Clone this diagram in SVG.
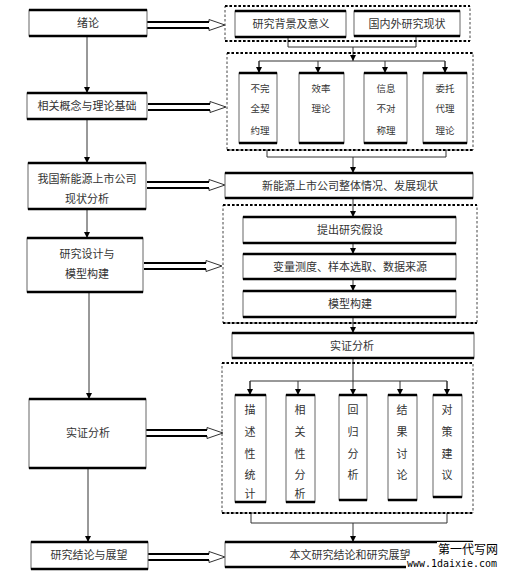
<svg xmlns="http://www.w3.org/2000/svg" width="508" height="577" viewBox="0 0 508 577">
<style>
.bx{fill:#fff;stroke:#666;stroke-width:1}
.tb{stroke:#000;stroke-width:2.5;fill:none}
.dot{fill:none;stroke:#444;stroke-width:1;stroke-dasharray:2.5 2}
.dotb{fill:none;stroke:#000;stroke-width:2;stroke-dasharray:2.5 2}
.ln{fill:none;stroke:#333;stroke-width:1}
.ar{fill:none;stroke:#333;stroke-width:1;marker-end:url(#ah)}
.t{font-family:"Liberation Serif","Noto Sans CJK SC",serif;font-size:11px;fill:#333;text-anchor:middle;dominant-baseline:central}
.s{font-size:9.5px}
.wm{font-family:"DejaVu Sans Mono","Noto Sans CJK SC",monospace;fill:#000;text-anchor:start}
</style>
<defs>
<marker id="ah" markerWidth="6" markerHeight="6" refX="6" refY="3" orient="auto" markerUnits="userSpaceOnUse">
<path d="M0,0 L6,3 L0,6 z" fill="#000"/>
</marker>
<g id="barrow">
<path d="M0,-3 H62 V-5.5 L78,0 L62,5.5 V3 H0" fill="#fff" stroke="#333" stroke-width="1"/>
<line x1="0" y1="-3" x2="62" y2="-3" stroke="#000" stroke-width="2"/>
<line x1="0" y1="3" x2="62" y2="3" stroke="#000" stroke-width="2"/>
</g>
</defs>
<rect width="508" height="577" fill="#fff"/>

<g id="connectors">
<line class="ar" x1="87" y1="36" x2="87" y2="93"/>
<line class="ar" x1="87" y1="119" x2="87" y2="163"/>
<line class="ar" x1="87" y1="209" x2="87" y2="238"/>
<line class="ar" x1="89" y1="292" x2="89" y2="399"/>
<line class="ar" x1="88" y1="468" x2="88" y2="542"/>
<use href="#barrow" x="147" y="25"/>
<use href="#barrow" x="148" y="107"/>
<use href="#barrow" x="147" y="185"/>
<use href="#barrow" x="144" y="266"/>
<use href="#barrow" x="145" y="433"/>
<use href="#barrow" x="147" y="557"/>
<path class="ln" d="M288,37 V47 H416 V36"/>
<line class="ar" x1="353" y1="47" x2="353" y2="61"/>
<path class="ln" d="M259,72 V61 H445 V72"/>
<line class="ar" x1="259" y1="61" x2="259" y2="73"/>
<line class="ar" x1="318" y1="61" x2="318" y2="73"/>
<line class="ar" x1="385" y1="61" x2="385" y2="73"/>
<line class="ar" x1="445" y1="61" x2="445" y2="73"/>
<path class="ln" d="M267,150 V157 H446 V150"/>
<line class="ar" x1="353" y1="157" x2="353" y2="173"/>
<line class="ar" x1="353" y1="198" x2="353" y2="217"/>
<line class="ar" x1="353" y1="243" x2="353" y2="254"/>
<line class="ar" x1="353" y1="279" x2="353" y2="291"/>
<line class="ar" x1="353" y1="317" x2="353" y2="333"/>
<line class="ar" x1="353" y1="358" x2="353" y2="395"/>
<path class="ln" d="M250,394 V381 H447 V394"/>
<line class="ar" x1="250" y1="381" x2="250" y2="395"/>
<line class="ar" x1="298" y1="381" x2="298" y2="395"/>
<line class="ar" x1="400" y1="381" x2="400" y2="395"/>
<line class="ar" x1="447" y1="381" x2="447" y2="395"/>
<path class="ln" d="M251,513 V523 H447 V513"/>
<line class="ar" x1="353" y1="523" x2="353" y2="542"/>
</g>

<g id="groupA">
<rect class="dot" x="225" y="6" width="245" height="35"/>
<line class="dotb" x1="225" y1="6" x2="470" y2="6"/><line class="dotb" x1="225" y1="41" x2="470" y2="41"/>
</g>
<g id="groupB">
<rect class="dot" x="227" y="53" width="246" height="97"/>
<line class="dotb" x1="227" y1="53" x2="473" y2="53"/><line class="dotb" x1="227" y1="150" x2="473" y2="150"/>
</g>
<g id="groupC">
<rect class="dot" x="223" y="205" width="254" height="118"/>
<line class="dotb" x1="223" y1="205" x2="477" y2="205"/><line class="dotb" x1="223" y1="323" x2="477" y2="323"/>
</g>
<g id="groupD">
<rect class="dot" x="222" y="363" width="251" height="150"/>
<line class="dotb" x1="222" y1="363" x2="473" y2="363"/><line class="dotb" x1="222" y1="513" x2="473" y2="513"/>
</g>

<g id="n-xulun"><rect class="bx" x="29" y="10" width="118" height="26"/><path class="tb" d="M29,10 H147 M29,36 H147"/><text class="t" x="88" y="23">绪论</text></g>
<g id="n-xiangguan"><rect class="bx" x="27" y="93" width="120" height="26"/><path class="tb" d="M27,93 H147 M27,119 H147"/><text class="t" x="87" y="106">相关概念与理论基础</text></g>
<g id="n-woguo"><rect class="bx" x="28" y="163" width="118" height="46"/><path class="tb" d="M28,163 H146 M28,209 H146"/><text class="t" x="87" y="179">我国新能源上市公司</text><text class="t" x="87" y="199">现状分析</text></g>
<g id="n-sheji"><rect class="bx" x="27" y="238" width="116" height="54"/><path class="tb" d="M27,238 H143 M27,292 H143"/><text class="t" x="87" y="254">研究设计与</text><text class="t" x="87" y="274">模型构建</text></g>
<g id="n-shizheng"><rect class="bx" x="29" y="399" width="117" height="69"/><path class="tb" d="M29,399 H146 M29,468 H146"/><text class="t" x="88" y="433">实证分析</text></g>
<g id="n-jielun"><rect class="bx" x="31" y="542" width="117" height="27"/><path class="tb" d="M31,542 H148 M31,569 H148"/><text class="t" x="89" y="555">研究结论与展望</text></g>

<g id="n-beijing"><rect class="bx" x="235" y="11" width="111" height="26"/><path class="tb" d="M235,11 H346 M235,37 H346"/><text class="t" x="291" y="24">研究背景及意义</text></g>
<g id="n-guonei"><rect class="bx" x="354" y="11" width="106" height="25"/><path class="tb" d="M354,11 H460 M354,36 H460"/><text class="t" x="407" y="23.5">国内外研究现状</text></g>

<g id="n-buwanquan"><rect class="bx" x="239" y="73" width="38" height="70"/><path class="tb" d="M239,73 H277 M239,143 H277"/><text class="t s" x="260" y="89">不完</text><text class="t s" x="260" y="109">全契</text><text class="t s" x="260" y="131">约理</text></g>
<g id="n-xiaolv"><rect class="bx" x="299" y="73" width="45" height="70"/><path class="tb" d="M299,73 H344 M299,143 H344"/><text class="t s" x="321" y="89">效率</text><text class="t s" x="321" y="109">理论</text></g>
<g id="n-xinxi"><rect class="bx" x="364" y="73" width="43" height="70"/><path class="tb" d="M364,73 H407 M364,143 H407"/><text class="t s" x="386" y="89">信息</text><text class="t s" x="386" y="109">不对</text><text class="t s" x="386" y="131">称理</text></g>
<g id="n-weituo"><rect class="bx" x="423" y="73" width="44" height="70"/><path class="tb" d="M423,73 H467 M423,143 H467"/><text class="t s" x="445" y="89">委托</text><text class="t s" x="445" y="109">代理</text><text class="t s" x="445" y="131">理论</text></g>

<g id="n-zhengti"><rect class="bx" x="225" y="173" width="248" height="25"/><path class="tb" d="M225,173 H473 M225,198 H473"/><text class="t" x="350" y="186">新能源上市公司整体情况、发展现状</text></g>
<g id="n-tichu"><rect class="bx" x="243" y="217" width="213" height="26"/><path class="tb" d="M243,217 H456 M243,243 H456"/><text class="t" x="350" y="230">提出研究假设</text></g>
<g id="n-bianliang"><rect class="bx" x="243" y="254" width="213" height="25"/><path class="tb" d="M243,254 H456 M243,279 H456"/><text class="t" x="350" y="267">变量测度、样本选取、数据来源</text></g>
<g id="n-moxing"><rect class="bx" x="243" y="291" width="213" height="26"/><path class="tb" d="M243,291 H456 M243,317 H456"/><text class="t" x="350" y="304">模型构建</text></g>
<g id="n-shizheng2"><rect class="bx" x="232" y="333" width="242" height="25"/><path class="tb" d="M232,333 H474 M232,358 H474"/><text class="t" x="352" y="346">实证分析</text></g>

<g id="n-miaoshu"><rect class="bx" x="235" y="395" width="31" height="107"/><path class="tb" d="M235,395 H266 M235,502 H266"/><text class="t" x="250" y="410">描</text><text class="t" x="250" y="432">述</text><text class="t" x="250" y="454">性</text><text class="t" x="250" y="475">统</text><text class="t" x="250" y="494">计</text></g>
<g id="n-xiangguanxing"><rect class="bx" x="286" y="395" width="29" height="107"/><path class="tb" d="M286,395 H315 M286,502 H315"/><text class="t" x="300" y="410">相</text><text class="t" x="300" y="432">关</text><text class="t" x="300" y="454">性</text><text class="t" x="300" y="475">分</text><text class="t" x="300" y="494">析</text></g>
<g id="n-huigui"><rect class="bx" x="339" y="395" width="28" height="105"/><path class="tb" d="M339,395 H367 M339,500 H367"/><text class="t" x="353" y="410">回</text><text class="t" x="353" y="432">归</text><text class="t" x="353" y="454">分</text><text class="t" x="353" y="475">析</text></g>
<g id="n-jieguo"><rect class="bx" x="388" y="395" width="29" height="105"/><path class="tb" d="M388,395 H417 M388,500 H417"/><text class="t" x="402" y="410">结</text><text class="t" x="402" y="432">果</text><text class="t" x="402" y="454">讨</text><text class="t" x="402" y="475">论</text></g>
<g id="n-duice"><rect class="bx" x="433" y="395" width="29" height="102"/><path class="tb" d="M433,395 H462 M433,497 H462"/><text class="t" x="447" y="410">对</text><text class="t" x="447" y="432">策</text><text class="t" x="447" y="454">建</text><text class="t" x="447" y="475">议</text></g>

<g id="n-benwen"><rect class="bx" x="225" y="542" width="248" height="25"/><path class="tb" d="M225,542 H473 M225,567 H473"/><text class="t" x="350" y="555">本文研究结论和研究展望</text></g>

<g id="watermark">
<rect x="437" y="542" width="62" height="14" fill="#fff"/>
<rect x="406" y="556" width="93" height="14" fill="#fff"/>
<text class="wm" x="438" y="554" font-size="12">第一代写网</text>
<text class="wm" x="407" y="567" font-size="11" textLength="90" lengthAdjust="spacingAndGlyphs">www.1daixie.com</text>
</g>
</svg>
